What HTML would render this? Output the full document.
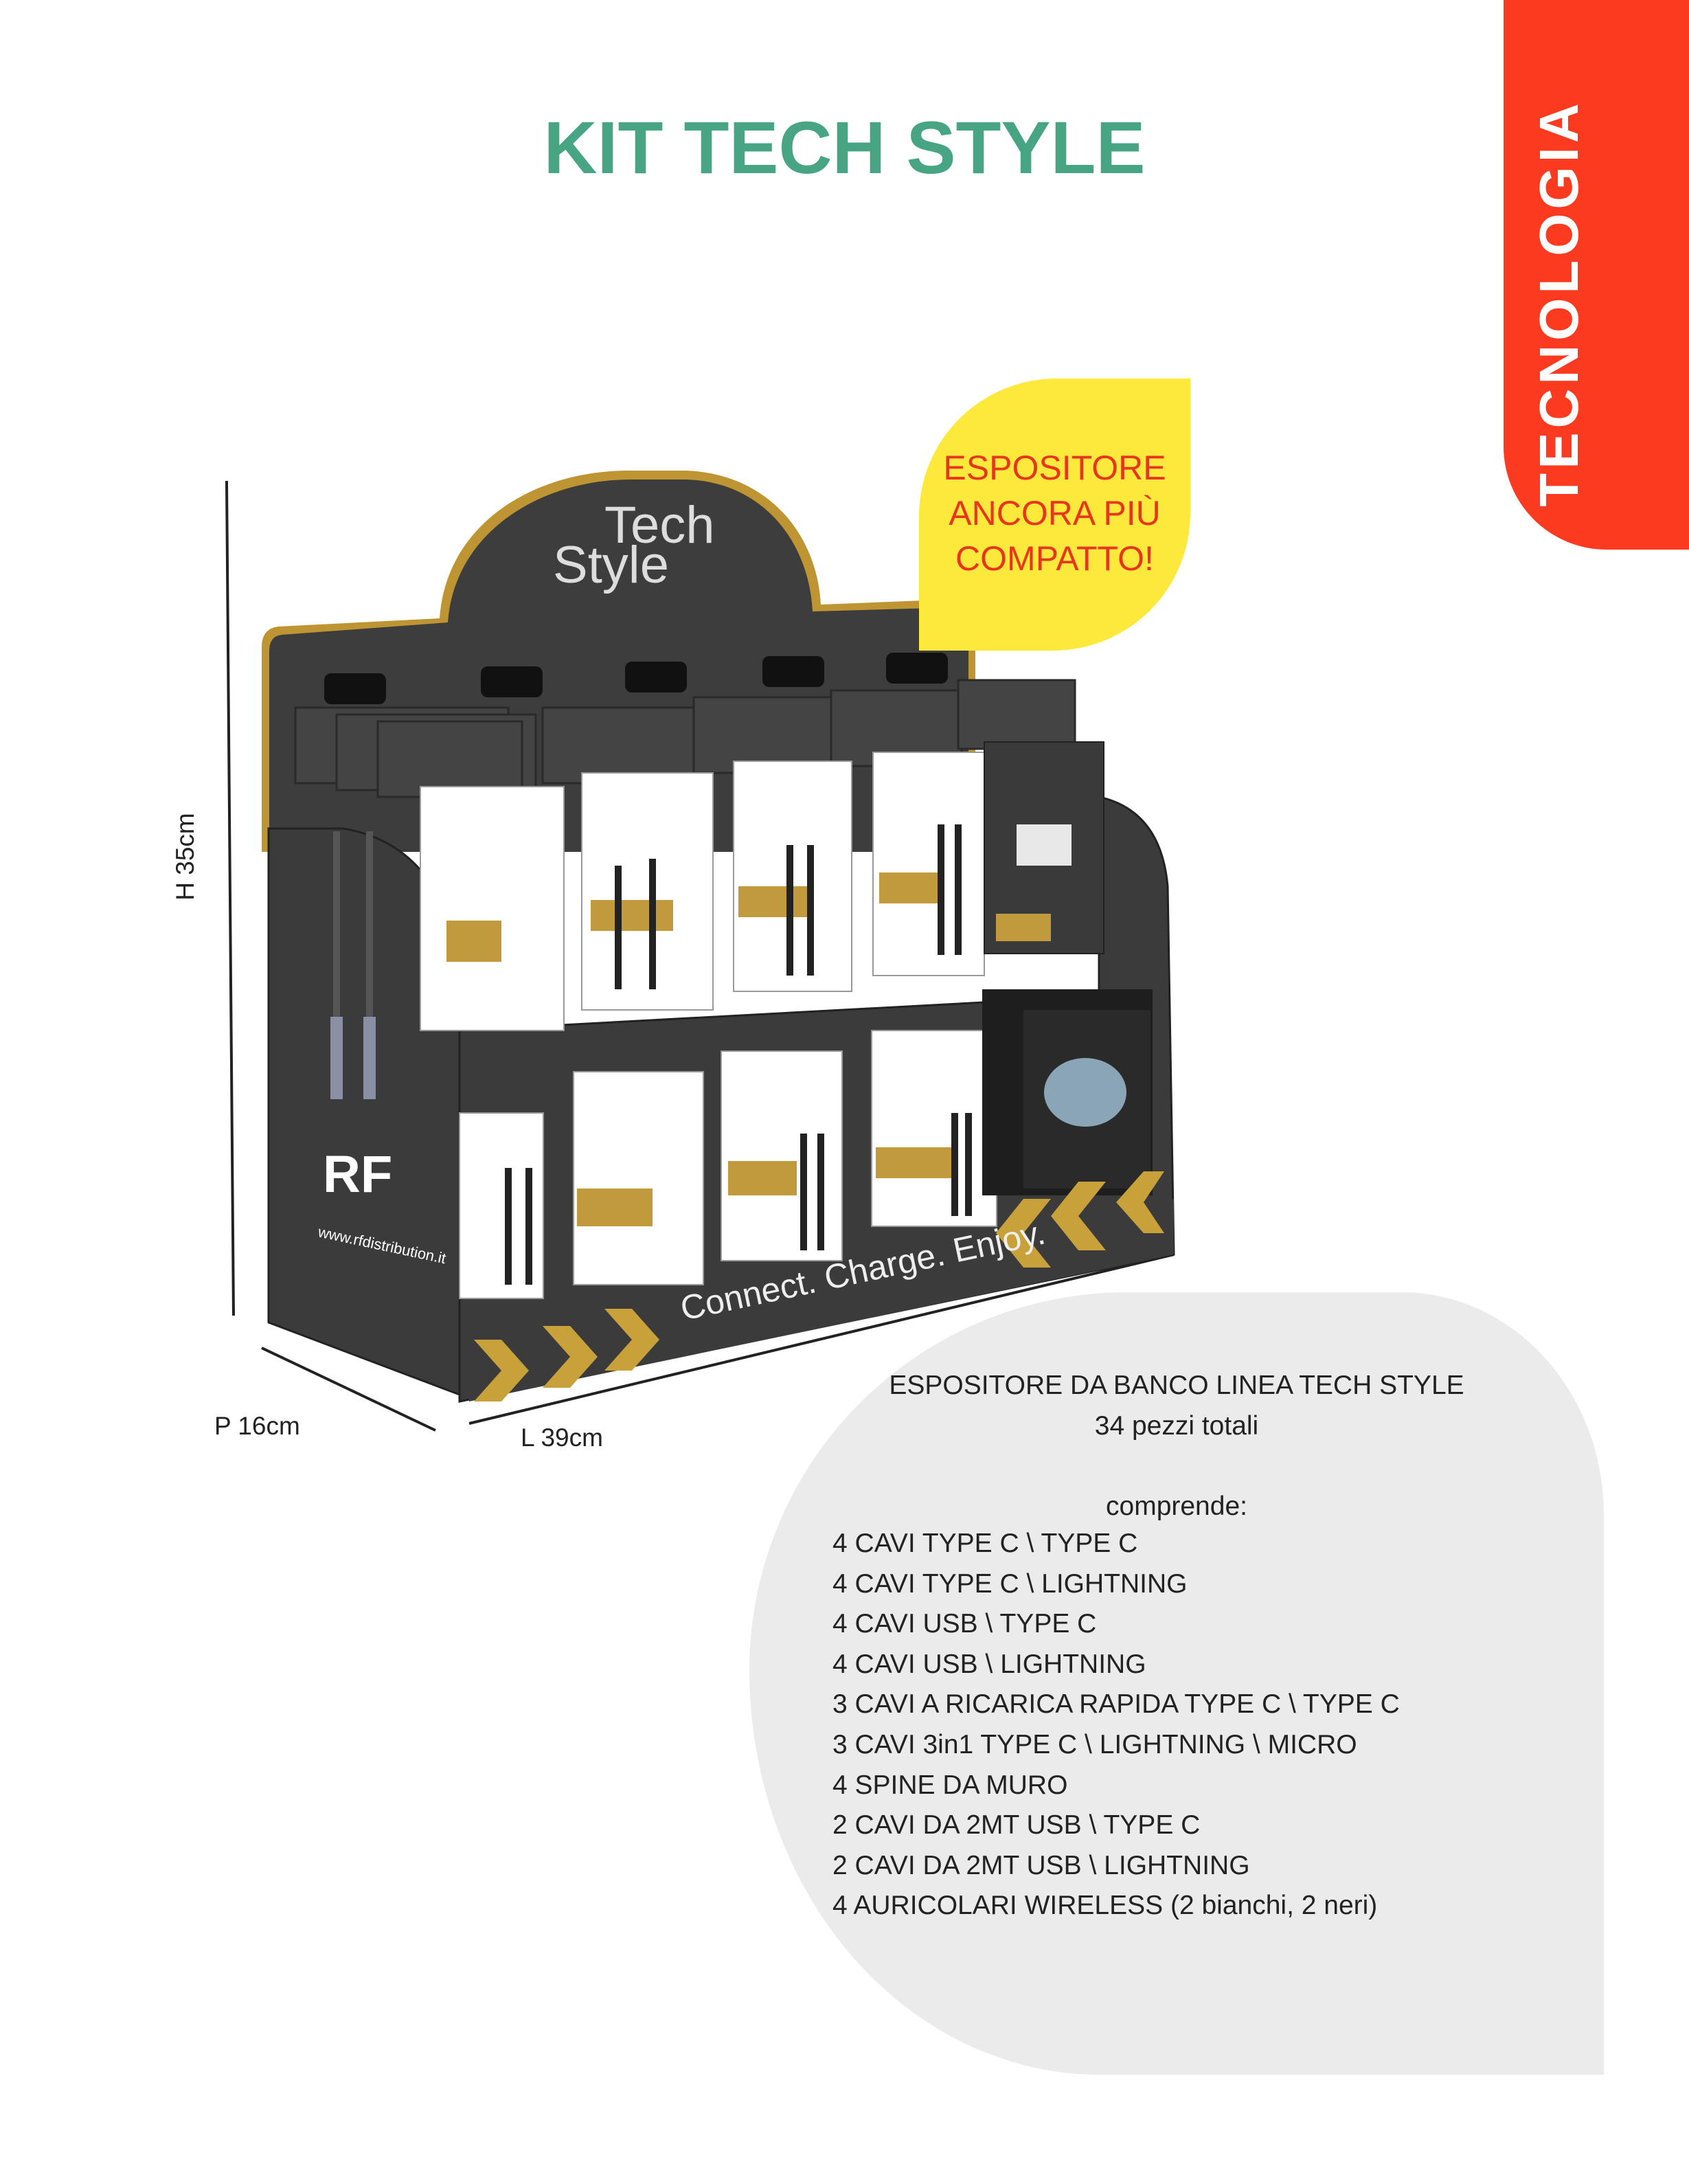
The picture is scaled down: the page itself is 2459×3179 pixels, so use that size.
<!DOCTYPE html>
<html><head><meta charset="utf-8">
<style>
html,body{margin:0;padding:0;background:#fff;}
body{width:2459px;height:3179px;position:relative;overflow:hidden;font-family:"Liberation Sans",sans-serif;}
.title{position:absolute;left:0;width:2459px;top:152px;text-align:center;font-weight:bold;font-size:108px;color:#47a584;}
.tab{position:absolute;left:2189px;top:0;width:270px;height:800px;background:#fb3a1f;border-bottom-left-radius:150px;}
.tabtxt{position:absolute;left:2270px;top:441px;transform:translate(-50%,-50%) rotate(-90deg);color:#fff;font-size:80px;font-weight:bold;letter-spacing:6px;white-space:nowrap;}
.yel{position:absolute;left:1338px;top:551px;width:395px;height:396px;background:#fde93c;border-top-left-radius:200px;border-bottom-right-radius:200px;}
.yeltxt{position:absolute;left:1338px;top:648px;width:395px;text-align:center;color:#e8351e;font-size:50px;line-height:66px;}
.gray{position:absolute;left:1091px;top:1881px;width:1244px;height:1139px;background:#ebebeb;border-top-left-radius:560px 560px;border-top-right-radius:300px 330px;border-bottom-left-radius:520px 600px;}
.info{position:absolute;color:#222;font-size:39px;line-height:58.6px;white-space:nowrap;}
.dim{position:absolute;font-size:37px;color:#222;white-space:nowrap;}
</style></head><body>
<div class="title">KIT TECH STYLE</div>
<div class="tab"></div>
<div class="tabtxt">TECNOLOGIA</div>
<div class="gray"></div>

<svg style="position:absolute;left:0;top:0" width="2459" height="3179" viewBox="0 0 2459 3179">
 <line x1="330" y1="700" x2="340" y2="1915" stroke="#222" stroke-width="4"/>
 <line x1="381" y1="1962" x2="634" y2="2082" stroke="#222" stroke-width="4"/>
 <line x1="683" y1="2072" x2="1709" y2="1826" stroke="#222" stroke-width="4"/>
 <!-- back panel with arch -->
 <path d="M640,900 C650,760 780,685 915,685 L1000,685 C1120,690 1190,780 1195,880 L1395,872 Q1420,872 1420,898 L1420,1240 L381,1240 L381,942 Q381,915 405,912 Z" fill="#bf9534"/>
 <path d="M652,906 C662,772 790,698 918,698 L1000,698 C1112,702 1178,790 1183,890 L1392,884 Q1410,884 1410,900 L1410,1240 L392,1240 L392,948 Q392,926 410,924 Z" fill="#3d3d3d"/>
 <text x="880" y="790" font-family="Liberation Sans,sans-serif" font-size="76" fill="#ddd">Tech</text>
 <text x="805" y="848" font-family="Liberation Sans,sans-serif" font-size="76" fill="#ddd">Style</text>
 <g fill="#111"><rect x="472" y="980" width="90" height="45" rx="10"/><rect x="700" y="970" width="90" height="45" rx="10"/><rect x="910" y="963" width="90" height="45" rx="10"/><rect x="1110" y="955" width="90" height="45" rx="10"/><rect x="1290" y="950" width="90" height="45" rx="10"/></g>
 <g fill="#444" stroke="#2a2a2a" stroke-width="3">
  <rect x="430" y="1030" width="310" height="110"/><rect x="490" y="1040" width="290" height="110"/><rect x="550" y="1050" width="210" height="110"/>
  <rect x="790" y="1030" width="240" height="110"/><rect x="1010" y="1015" width="220" height="110"/><rect x="1210" y="1005" width="190" height="110"/><rect x="1395" y="990" width="170" height="100"/>
 </g>
 <!-- main body -->
 <path d="M391,1206 L500,1206 Q640,1230 669,1400 L669,2030 L391,1925 Z" fill="#3b3b3b" stroke="#222" stroke-width="3"/>
 <path d="M669,1500 L1600,1450 L1600,1160 Q1690,1180 1700,1290 L1709,1826 L669,2040 Z" fill="#3b3b3b" stroke="#222" stroke-width="3"/>
 <g fill="#fff" stroke="#999" stroke-width="2">
  <rect x="612" y="1145" width="209" height="355"/>
  <rect x="847" y="1125" width="191" height="345"/>
  <rect x="1068" y="1108" width="172" height="335"/>
  <rect x="1271" y="1095" width="162" height="325"/>
 </g>
 <rect x="1433" y="1080" width="174" height="308" fill="#3a3a3a" stroke="#222" stroke-width="2"/>
 <rect x="1480" y="1200" width="80" height="60" fill="#e8e8e8"/>
 <g fill="#fff" stroke="#999" stroke-width="2">
  <rect x="669" y="1620" width="122" height="270"/>
  <rect x="835" y="1560" width="189" height="310"/>
  <rect x="1050" y="1530" width="176" height="305"/>
  <rect x="1269" y="1500" width="182" height="285"/>
 </g>
 <rect x="1430" y="1440" width="248" height="300" fill="#1e1e1e"/>
 <rect x="1490" y="1470" width="185" height="260" fill="#2a2a2a"/>
 <ellipse cx="1580" cy="1590" rx="60" ry="50" fill="#8aa6b6"/>
 <g fill="#c29a3e">
  <rect x="650" y="1340" width="80" height="60"/><rect x="860" y="1310" width="120" height="45"/><rect x="1075" y="1290" width="100" height="45"/><rect x="1280" y="1270" width="95" height="45"/><rect x="1450" y="1330" width="80" height="40"/>
  <rect x="840" y="1730" width="110" height="55"/><rect x="1060" y="1690" width="100" height="50"/><rect x="1275" y="1670" width="110" height="45"/>
 </g>
 <g stroke="#222" stroke-width="10"><line x1="900" y1="1260" x2="900" y2="1440"/><line x1="950" y1="1250" x2="950" y2="1440"/><line x1="1150" y1="1230" x2="1150" y2="1420"/><line x1="1180" y1="1230" x2="1180" y2="1420"/><line x1="1370" y1="1200" x2="1370" y2="1390"/><line x1="1395" y1="1200" x2="1395" y2="1390"/>
  <line x1="740" y1="1700" x2="740" y2="1870"/><line x1="770" y1="1700" x2="770" y2="1870"/><line x1="1170" y1="1650" x2="1170" y2="1820"/><line x1="1195" y1="1650" x2="1195" y2="1820"/><line x1="1390" y1="1620" x2="1390" y2="1770"/><line x1="1410" y1="1620" x2="1410" y2="1770"/></g>
 <g stroke="#555" stroke-width="10"><line x1="490" y1="1210" x2="490" y2="1540"/><line x1="538" y1="1210" x2="538" y2="1540"/></g>
 <g stroke="#8a8fa6" stroke-width="18"><line x1="490" y1="1480" x2="490" y2="1600"/><line x1="538" y1="1480" x2="538" y2="1600"/></g>
 <!-- front bottom band -->
 <path d="M683,1950 L1709,1745 L1709,1826 L683,2040 Z" fill="#3b3b3b"/>
 <g fill="#c9a13a">
  <path d="M690,1950 l40,0 l40,45 l-40,45 l-40,0 l40,-45z"/><path d="M790,1930 l40,0 l40,45 l-40,45 l-40,0 l40,-45z"/><path d="M880,1905 l40,0 l40,45 l-40,45 l-40,0 l40,-45z"/>
  <path d="M1530,1745 l-40,0 l-40,50 l40,50 l40,0 l-40,-50z"/><path d="M1610,1720 l-40,0 l-40,50 l40,50 l40,0 l-40,-50z"/><path d="M1695,1705 l-30,0 l-40,45 l40,45 l30,0 l-30,-45z"/>
 </g>
 <text x="0" y="0" transform="translate(995,1922) rotate(-12)" font-family="Liberation Sans,sans-serif" font-size="50" fill="#eee">Connect. Charge. Enjoy.</text>
 <text x="470" y="1735" font-family="Liberation Sans,sans-serif" font-weight="bold" font-size="76" fill="#fff">RF</text>
 <text x="0" y="0" transform="translate(462,1800) rotate(12)" font-family="Liberation Sans,sans-serif" font-size="22" fill="#fff">www.rfdistribution.it</text>
</svg>

<div class="yel"></div>
<div class="yeltxt">ESPOSITORE<br>ANCORA PIÙ<br>COMPATTO!</div>

<div class="dim" style="left:270px;top:1247px;transform:translate(-50%,-50%) rotate(-90deg);">H 35cm</div>
<div class="dim" style="left:312px;top:2055px;">P 16cm</div>
<div class="dim" style="left:758px;top:2072px;">L 39cm</div>

<div class="info" style="left:1213px;width:1000px;top:1988px;text-align:center;">ESPOSITORE DA BANCO LINEA TECH STYLE<br>34 pezzi totali<br><br>comprende:</div>
<div class="info" style="left:1212px;top:2218px;">4 CAVI TYPE C \ TYPE C<br>4 CAVI TYPE C \ LIGHTNING<br>4 CAVI USB \ TYPE C<br>4 CAVI USB \ LIGHTNING<br>3 CAVI A RICARICA RAPIDA TYPE C \ TYPE C<br>3 CAVI 3in1 TYPE C \ LIGHTNING \ MICRO<br>4 SPINE DA MURO<br>2 CAVI DA 2MT USB \ TYPE C<br>2 CAVI DA 2MT USB \ LIGHTNING<br>4 AURICOLARI WIRELESS (2 bianchi, 2 neri)</div>
</body></html>
